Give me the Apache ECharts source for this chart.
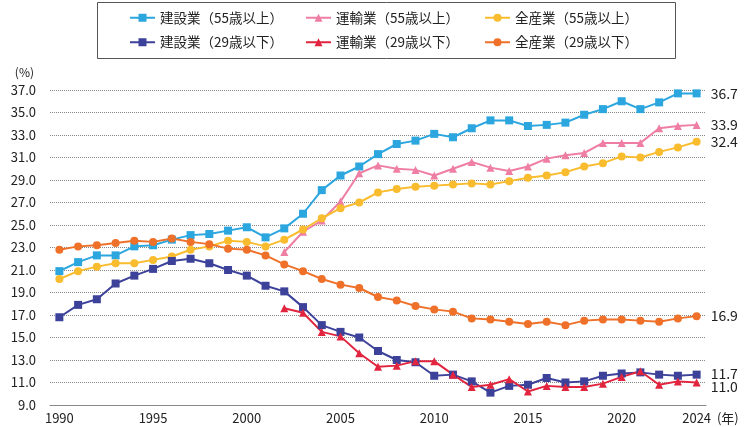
<!DOCTYPE html>
<html>
<head>
<meta charset="utf-8">
<script src="https://cdn.jsdelivr.net/npm/echarts@6/dist/echarts.min.js"></script>
<style>
  html, body { margin: 0; padding: 0; background: #fff; }
  #chart { width: 750px; height: 427px; }
</style>
</head>
<body>
<div id="chart"></div>
<script>
var years = ['1990','1991','1992','1993','1994','1995','1996','1997','1998','1999',
             '2000','2001','2002','2003','2004','2005','2006','2007','2008','2009',
             '2010','2011','2012','2013','2014','2015','2016','2017','2018','2019',
             '2020','2021','2022','2023','2024'];

var kensetsu55 = [20.9,21.7,22.3,22.3,23.1,23.2,23.7,24.1,24.2,24.5,
                  24.8,23.9,24.7,26.0,28.1,29.4,30.2,31.3,32.2,32.5,
                  33.1,32.8,33.6,34.3,34.3,33.8,33.9,34.1,34.8,35.3,
                  36.0,35.3,35.9,36.7,36.7];
var unyu55 = [null,null,null,null,null,null,null,null,null,null,
              null,null,22.6,24.4,25.4,27.1,29.6,30.3,30.0,29.9,
              29.4,30.0,30.6,30.1,29.8,30.2,30.9,31.2,31.4,32.3,
              32.3,32.3,33.6,33.8,33.9];
var zensangyo55 = [20.2,20.9,21.3,21.6,21.6,21.9,22.2,22.8,23.1,23.6,
                   23.5,23.1,23.7,24.6,25.6,26.5,27.0,27.9,28.2,28.4,
                   28.5,28.6,28.7,28.6,28.9,29.2,29.4,29.7,30.2,30.5,
                   31.1,31.0,31.5,31.9,32.4];
var kensetsu29 = [16.8,17.9,18.4,19.8,20.5,21.1,21.8,22.0,21.6,21.0,
                  20.5,19.6,19.1,17.7,16.1,15.5,15.0,13.8,13.0,12.8,
                  11.6,11.7,11.1,10.1,10.7,10.8,11.4,11.0,11.1,11.6,
                  11.8,11.9,11.7,11.6,11.7];
var unyu29 = [null,null,null,null,null,null,null,null,null,null,
              null,null,17.6,17.2,15.5,15.1,13.6,12.4,12.5,12.9,
              12.9,11.7,10.6,10.8,11.3,10.2,10.7,10.6,10.6,10.9,
              11.5,12.0,10.8,11.1,11.0];
var zensangyo29 = [22.8,23.1,23.2,23.4,23.6,23.5,23.8,23.5,23.3,22.9,
                   22.8,22.3,21.5,20.9,20.2,19.7,19.4,18.6,18.3,17.8,
                   17.5,17.3,16.7,16.6,16.4,16.2,16.4,16.1,16.5,16.6,
                   16.6,16.5,16.4,16.7,16.9];

var FONT = '"Noto Sans CJK JP", "Noto Sans", sans-serif';

function mkSeries(name, data, color, symbol, labelOffset) {
    return {
        name: name,
        type: 'line',
        data: data,
        symbol: symbol,
        symbolSize: 8,
        showAllSymbol: true,
        connectNulls: false,
        lineStyle: { color: color, width: 2 },
        itemStyle: { color: color },
        emphasis: { disabled: true },
        endLabel: {
            show: true,
            distance: 14,
            offset: labelOffset || [0, 0],
            color: '#222',
            fontFamily: FONT,
            fontSize: 14,
            formatter: function (p) { return p.value.toFixed(1); }
        }
    };
}

var chart = echarts.init(document.getElementById('chart'));

var legendBase = {
    orient: 'vertical',
    top: 11,
    padding: 0,
    itemWidth: 25,
    itemHeight: 10,
    itemGap: 11,
    textStyle: { fontFamily: FONT, fontSize: 13.5, color: '#222' }
};

var option = {
    animation: false,
    backgroundColor: '#fff',
    textStyle: { fontFamily: FONT },
    graphic: [{
        type: 'rect',
        left: 95, top: 0,
        shape: { width: 578, height: 56 },
        style: { fill: 'none', stroke: '#555', lineWidth: 1 }
    }],
    legend: [
        Object.assign({}, legendBase, { left: 129, data: ['建設業（55歳以上）', '建設業（29歳以下）'] }),
        Object.assign({}, legendBase, { left: 305, data: ['運輸業（55歳以上）', '運輸業（29歳以下）'] }),
        Object.assign({}, legendBase, { left: 484, data: ['全産業（55歳以上）', '全産業（29歳以下）'] })
    ],
    grid: { left: 50, right: 44, top: 90, bottom: 22, outerBoundsMode: 'none', containLabel: false },
    xAxis: {
        type: 'category',
        data: years,
        boundaryGap: true,
        name: '(年)',
        nameLocation: 'end',
        nameGap: 8,
        nameTextStyle: { color: '#222', fontSize: 13, verticalAlign: 'top', padding: [7, 0, 0, 0] },
        axisLine: { lineStyle: { color: '#888', width: 1 } },
        axisTick: { show: false },
        axisLabel: {
            color: '#222',
            fontSize: 13,
            margin: 7,
            interval: function (i) { return i % 5 === 0 || i === years.length - 1; }
        },
        splitLine: { show: false }
    },
    yAxis: {
        type: 'value',
        min: 9,
        max: 37,
        interval: 2,
        name: '(%)',
        nameLocation: 'end',
        nameGap: 12,
        nameTextStyle: { color: '#222', fontSize: 12, align: 'right', padding: [0, 16, 0, 0] },
        axisLine: { show: false },
        axisTick: { show: false },
        axisLabel: {
            color: '#222',
            fontSize: 13,
            margin: 14,
            formatter: function (v) { return v.toFixed(1); }
        },
        splitLine: { lineStyle: { color: '#888', type: 'dotted', width: 1 } }
    },
    series: [
        mkSeries('建設業（55歳以上）', kensetsu55, '#2BA6DF', 'rect'),
        mkSeries('運輸業（55歳以上）', unyu55, '#EF7EA3', 'triangle'),
        mkSeries('全産業（55歳以上）', zensangyo55, '#F9BC2E', 'circle'),
        mkSeries('建設業（29歳以下）', kensetsu29, '#3C4199', 'rect', [0, -1]),
        mkSeries('運輸業（29歳以下）', unyu29, '#E2253F', 'triangle', [0, 4]),
        mkSeries('全産業（29歳以下）', zensangyo29, '#EF7129', 'circle')
    ]
};

chart.setOption(option);
</script>
</body>
</html>
